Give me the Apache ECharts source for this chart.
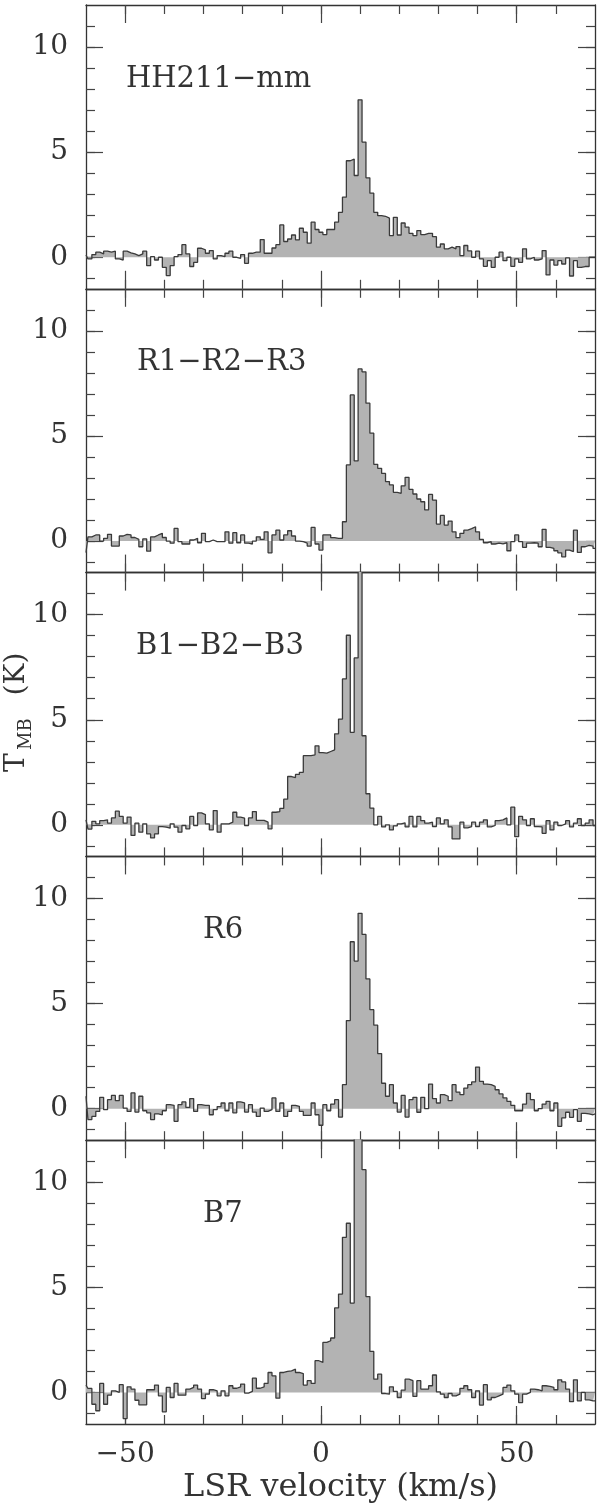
<!DOCTYPE html>
<html>
<head>
<meta charset="utf-8">
<title>HH211 spectra</title>
<script src="https://cdn.jsdelivr.net/npm/echarts@6/dist/echarts.min.js"></script>
<style>
html, body { margin: 0; padding: 0; background: #fff; }
#chart { width: 600px; height: 1509px; }
</style>
</head>
<body>
<div id="chart"></div>
<script>
// channel centres, km/s
var velocity = [
  -60, -59, -58, -57, -56, -55, -54, -53, -52, -51, -50, -49, -48, -47, -46, -45, -44, -43, -42, -41,
  -40, -39, -38, -37, -36, -35, -34, -33, -32, -31, -30, -29, -28, -27, -26, -25, -24, -23, -22, -21,
  -20, -19, -18, -17, -16, -15, -14, -13, -12, -11, -10, -9, -8, -7, -6, -5, -4, -3, -2, -1,
  0, 1, 2, 3, 4, 5, 6, 7, 8, 9, 10, 11, 12, 13, 14, 15, 16, 17, 18, 19,
  20, 21, 22, 23, 24, 25, 26, 27, 28, 29, 30, 31, 32, 33, 34, 35, 36, 37, 38, 39,
  40, 41, 42, 43, 44, 45, 46, 47, 48, 49, 50, 51, 52, 53, 54, 55, 56, 57, 58, 59,
  60, 61, 62, 63, 64, 65, 66, 67, 68, 69, 70
];

// T_MB (K) per channel
var hh211mm = [
  0.11, -0.08, 0.13, 0.24, 0.16, 0.29, 0.24, 0.29, -0.08, -0.13,
  0.29, 0.21, 0.16, 0.08, 0.16, 0.29, -0.4, 0.03, -0.13, 0,
  -0.48, -0.87, -0.4, 0.03, 0.13, 0.6, 0.16, -0.44, -0.24, 0.43,
  0.35, 0.19, 0.32, -0.08, 0.08, 0.03, 0.19, 0.29, 0, -0.05,
  0.13, -0.29, 0.19, 0.24, 0.24, 0.84, 0.19, 0.19, 0.44, 0.6,
  1.54, 0.75, 0.87, 1.06, 0.83, 1.38, 1.19, 0.67, 1.67, 1.32,
  1.19, 1.08, 1.32, 1.32, 1.67, 2.14, 2.86, 4.59, 4.67, 3.89,
  7.49, 5.48, 3.78, 3.05, 2.14, 1.98, 1.95, 1.86, 1.03, 1.9,
  1.06, 1.63, 1.43, 1.14, 1.03, 1.27, 1.08, 1.14, 1.14, 0.98,
  0.48, 0.63, 0.4, 0.48, 0.4, 0.51, 0.08, 0.56, 0.3, 0,
  0.29, -0.08, -0.43, -0.16, -0.48, 0, 0.24, -0.16, 0, -0.43,
  -0.08, -0.24, 0.4, -0.08, 0, -0.13, -0.08, 0.32, -0.84, -0.13,
  -0.37, -0.16, -0.32, -0.03, -0.89, -0.16, -0.48, -0.44, -0.44, 0, 0
];
var r1r2r3 = [
  -0.55, 0.2, 0.29, 0.29, 0, 0.13, 0.32, -0.24, -0.24, 0.24,
  0.32, 0.29, 0.17, 0.08, -0.27, 0.1, -0.48, 0.2, 0.29, 0.37,
  0.17, 0, -0.1, 0.6, -0.03, -0.14, -0.14, 0.05, 0.13, -0.08,
  0.37, -0.03, 0.05, -0.03, -0.03, -0.03, 0.44, -0.1, 0.4, -0.08,
  0.29, -0.1, -0.14, 0, 0.2, 0.08, 0.44, -0.56, 0.29, 0.52,
  0.05, 0.29, 0.49, 0.24, 0, -0.03, -0.1, -0.24, 0.65, -0.14,
  -0.43, 0.29, 0.29, 0.16, 0.13, 0.13, 0.92, 3.62, 6.95, 3.81,
  8.19, 8.05, 6.56, 5.13, 3.65, 3.46, 3.22, 2.83, 2.67, 2.32,
  2.27, 2.63, 3.03, 2.46, 2.24, 2.0, 1.87, 1.48, 2.22, 1.95,
  0.81, 1.22, 0.76, 0.95, 0.44, 0.16, 0.37, 0.52, 0.59, 0.68,
  0.44, 0.08, -0.08, -0.03, -0.14, -0.1, -0.13, -0.08, -0.46, -0.03,
  0.29, -0.03, -0.3, -0.1, -0.08, -0.1, -0.27, 0.56, -0.3, -0.35,
  -0.46, -0.56, -0.75, -0.43, -0.5, 0.52, -0.54, -0.27, -0.2, -0.24, -0.35
];
var b1b2b3 = [
  0.24, -0.2, 0.17, 0.05, 0.2, 0.24, 0.08, 0.33, 0.65, 0.4,
  0.08, 0.37, -0.5, 0.08, -0.35, 0.05, -0.43, -0.62, -0.43, -0.08,
  -0.11, -0.16, 0.05, -0.11, -0.35, -0.03, -0.19, 0.4, -0.03, 0.57,
  0.49, 0.05, -0.24, 0.68, -0.35, 0.05, 0.05, 0.13, 0.6, 0.37,
  0.32, -0.03, 0.33, 0.63, 0.21, 0.21, 0.13, -0.19, 0.6, 0.63,
  0.78, 1.22, 2.3, 2.25, 2.4, 2.5, 3.29, 3.29, 3.33, 3.76,
  3.44, 3.41, 3.49, 3.57, 4.33, 5.03, 6.94, 9.02, 4.4, 7.94,
  14.5, 4.24, 1.48, 0.8, 0, 0.4, -0.1, 0, -0.24, -0.05,
  0.05, 0.1, -0.1, 0.4, -0.1, 0.4, 0.2, 0.08, 0.13, -0.08,
  0.33, 0.05, 0.24, -0.1, -0.67, -0.67, 0.13, -0.14, -0.08, 0.13,
  -0.08, 0.13, 0.24, -0.1, -0.03, 0.2, 0.24, 0.33, 0, 0.84,
  -0.56, 0.4, 0.24, -0.03, 0.29, -0.08, -0.1, -0.4, 0.2, -0.24,
  0.13, -0.03, 0.05, 0.2, -0.1, 0.08, 0.29, -0.03, 0.08, 0.24, -0.03
];
var r6 = [
  0.59, -0.52, -0.37, -0.13, 0.54, -0.05, 0.43, 0.63, 0.38, 0.63,
  0.03, -0.13, 0.75, -0.16, 0.59, -0.1, -0.2, -0.52, -0.25, -0.29,
  -0.1, 0.19, 0.16, -0.6, 0.19, 0.32, 0.06, 0.48, -0.13, 0.19,
  0.16, 0.16, -0.29, -0.05, 0.1, 0.27, -0.1, 0.27, -0.2, 0.32,
  0.27, -0.16, 0.19, -0.16, -0.37, 0.03, -0.13, -0.05, 0.51, -0.13,
  0.27, -0.37, -0.13, 0.16, 0.11, -0.13, -0.32, -0.32, 0.27, -0.29,
  -0.79, 0.19, -0.1, 0.22, 0.43, -0.4, 1.14, 4.19, 7.94, 7.02,
  9.29, 8.29, 6.17, 4.71, 3.97, 2.62, 1.21, 0.59, 1.14, 0.27,
  -0.16, 0.63, -0.4, 0.43, 0.54, -0.17, 0.54, 0, 1.17, 0.48,
  0.27, 0.67, 0.59, 0.38, 1.14, 0.79, 0.67, 0.98, 1.14, 1.27,
  1.98, 1.3, 1.17, 1.14, 1.06, 0.9, 0.7, 0.51, 0.35, 0.16,
  -0.1, -0.1, 0.22, 0.73, 0.43, -0.1, 0, 0.22, 0.35, -0.1,
  0.27, -0.84, -0.44, -0.17, -0.41, -0.05, -0.6, -0.22, -0.25, -0.29, -0.25
];
var b7 = [
  0.35, 0.19, -0.56, -0.87, 0.43, -0.56, -0.13, 0.08, 0, 0.37,
  -1.24, 0.27, 0.16, -0.37, -0.59, -0.59, 0.13, 0.13, 0.35, -0.16,
  -0.92, 0.24, -0.24, 0.43, -0.13, -0.13, 0.16, 0.24, 0.35, 0.16,
  -0.29, -0.08, 0.13, 0.08, -0.16, 0.08, -0.16, 0.32, 0.2, 0.27,
  0.4, -0.03, 0.05, 0.68, 0.2, 0.27, 0.43, 0.95, 0.79, -0.27,
  0.95, 1.0, 1.03, 1.11, 0.95, 0.9, 0.35, 0.56, 0.43, 1.51,
  1.43, 2.38, 2.46, 2.59, 4.02, 4.68, 7.38, 8.05, 4.25, 13.5,
  13.0, 10.6, 4.56, 1.95, 0.63, 0.87, -0.05, -0.08, 0.27, 0.05,
  -0.24, 0.11, 0.63, 0.56, -0.19, 0.56, 0.16, 0.16, 0.32, 0.83,
  0.03, -0.08, -0.24, -0.05, -0.16, -0.08, 0.19, 0.32, 0.13, -0.24,
  0.08, -0.6, 0.37, -0.35, -0.24, -0.16, -0.08, 0.24, 0.35, 0.08,
  -0.08, -0.48, -0.08, 0, 0.16, 0.13, 0.08, 0.32, 0.29, 0.24,
  0.13, 0.6, 0.5, 0.16, -0.44, 0.6, -0.4, 0, -0.35, -0.4, -0.4
];

var spectra = [hh211mm, r1r2r3, b1b2b3, r6, b7];
var panelNames = ['HH211\u2212mm', 'R1\u2212R2\u2212R3', 'B1\u2212B2\u2212B3', 'R6', 'B7'];
var panelNameX = [126, 137, 136, 203, 203];

var xMajorTicks = [-50, 0, 50];
var xMinorTicks = [-50, -40, -30, -20, -10, 0, 10, 20, 30, 40, 50, 60];
var yMajorTicks = [0, 5, 10];
var yMinorTicks = [-1, 0, 1, 2, 3, 4, 5, 6, 7, 8, 9, 10, 11];

var FONT = 'DejaVu Serif';
var INK = '#333';
var firstTop = 5, panelH = 283.8, plotLeft = 86, plotRight = 5;

function minusSign(val) {
    return String(val).replace('-', '\u2212');
}

function makeXAxis(i, pos, ticks, len, major, label) {
    return {
        type: 'value', gridIndex: i, position: pos, min: -60, max: 70,
        axisLine: { show: major, onZero: false, lineStyle: { color: INK, width: 1.3 } },
        axisTick: { show: true, inside: true, length: len, customValues: ticks,
            lineStyle: { color: '#444', width: 1.2 } },
        axisLabel: { show: label, customValues: ticks, margin: 17, color: INK,
            fontFamily: FONT, fontSize: 28, formatter: minusSign },
        splitLine: { show: false }
    };
}

function makeYAxis(i, pos, ticks, len, major, label) {
    return {
        type: 'value', gridIndex: i, position: pos, min: -1.5, max: 12,
        axisLine: { show: major, onZero: false, lineStyle: { color: INK, width: 1.3 } },
        axisTick: { show: true, inside: true, length: len, customValues: ticks,
            lineStyle: { color: '#444', width: 1.2 } },
        axisLabel: { show: label, customValues: ticks, margin: 18, color: INK,
            fontFamily: FONT, fontSize: 28 },
        splitLine: { show: false }
    };
}

var grids = [], xAxes = [], yAxes = [], series = [], texts = [];
for (var i = 0; i < spectra.length; i++) {
    var panelY = firstTop + i * panelH;
    grids.push({ left: plotLeft, right: plotRight, top: panelY, height: panelH });

    var last = i === spectra.length - 1;
    xAxes.push(makeXAxis(i, 'bottom', xMajorTicks, 18, true, last));
    xAxes.push(makeXAxis(i, 'bottom', xMinorTicks, 9, false, false));
    xAxes.push(makeXAxis(i, 'top', xMajorTicks, 18, true, false));
    xAxes.push(makeXAxis(i, 'top', xMinorTicks, 9, false, false));

    yAxes.push(makeYAxis(i, 'left', yMajorTicks, 17, true, true));
    yAxes.push(makeYAxis(i, 'left', yMinorTicks, 9, false, false));
    yAxes.push(makeYAxis(i, 'right', yMajorTicks, 17, true, false));
    yAxes.push(makeYAxis(i, 'right', yMinorTicks, 9, false, false));

    var pts = [];
    for (var k = 0; k < velocity.length; k++) {
        pts.push([velocity[k], spectra[i][k]]);
    }
    series.push({
        type: 'line',
        name: panelNames[i],
        xAxisIndex: 4 * i,
        yAxisIndex: 4 * i,
        data: pts,
        step: 'middle',
        symbol: 'none',
        clip: true,
        silent: true,
        lineStyle: { color: '#3a3a3a', width: 1.3 },
        areaStyle: { color: '#b3b3b3', opacity: 1, origin: 'auto' }
    });

    texts.push({
        type: 'text', x: panelNameX[i], y: panelY + 74,
        style: { text: panelNames[i], font: '29px "' + FONT + '"', fill: INK,
            align: 'left', verticalAlign: 'middle' }
    });
}

// axis titles
texts.push({
    type: 'text', x: 340.5, y: 1488,
    style: { text: 'LSR velocity (km/s)', font: '32px "' + FONT + '"', fill: INK,
        align: 'center', verticalAlign: 'middle' }
});
texts.push({
    type: 'text', x: 16.7, y: 772, rotation: Math.PI / 2,
    style: { text: 'T', font: '28px "' + FONT + '"', fill: INK, align: 'left', verticalAlign: 'middle' }
});
texts.push({
    type: 'text', x: 26.5, y: 750, rotation: Math.PI / 2,
    style: { text: 'MB', font: '18px "' + FONT + '"', fill: INK, align: 'left', verticalAlign: 'middle' }
});
texts.push({
    type: 'text', x: 16.7, y: 674, rotation: Math.PI / 2,
    style: { text: '(K)', font: '28px "' + FONT + '"', fill: INK, align: 'center', verticalAlign: 'middle' }
});

var chart = echarts.init(document.getElementById('chart'));
chart.setOption({
    animation: false,
    backgroundColor: '#fff',
    grid: grids,
    xAxis: xAxes,
    yAxis: yAxes,
    series: series,
    graphic: texts
});
</script>
</body>
</html>
